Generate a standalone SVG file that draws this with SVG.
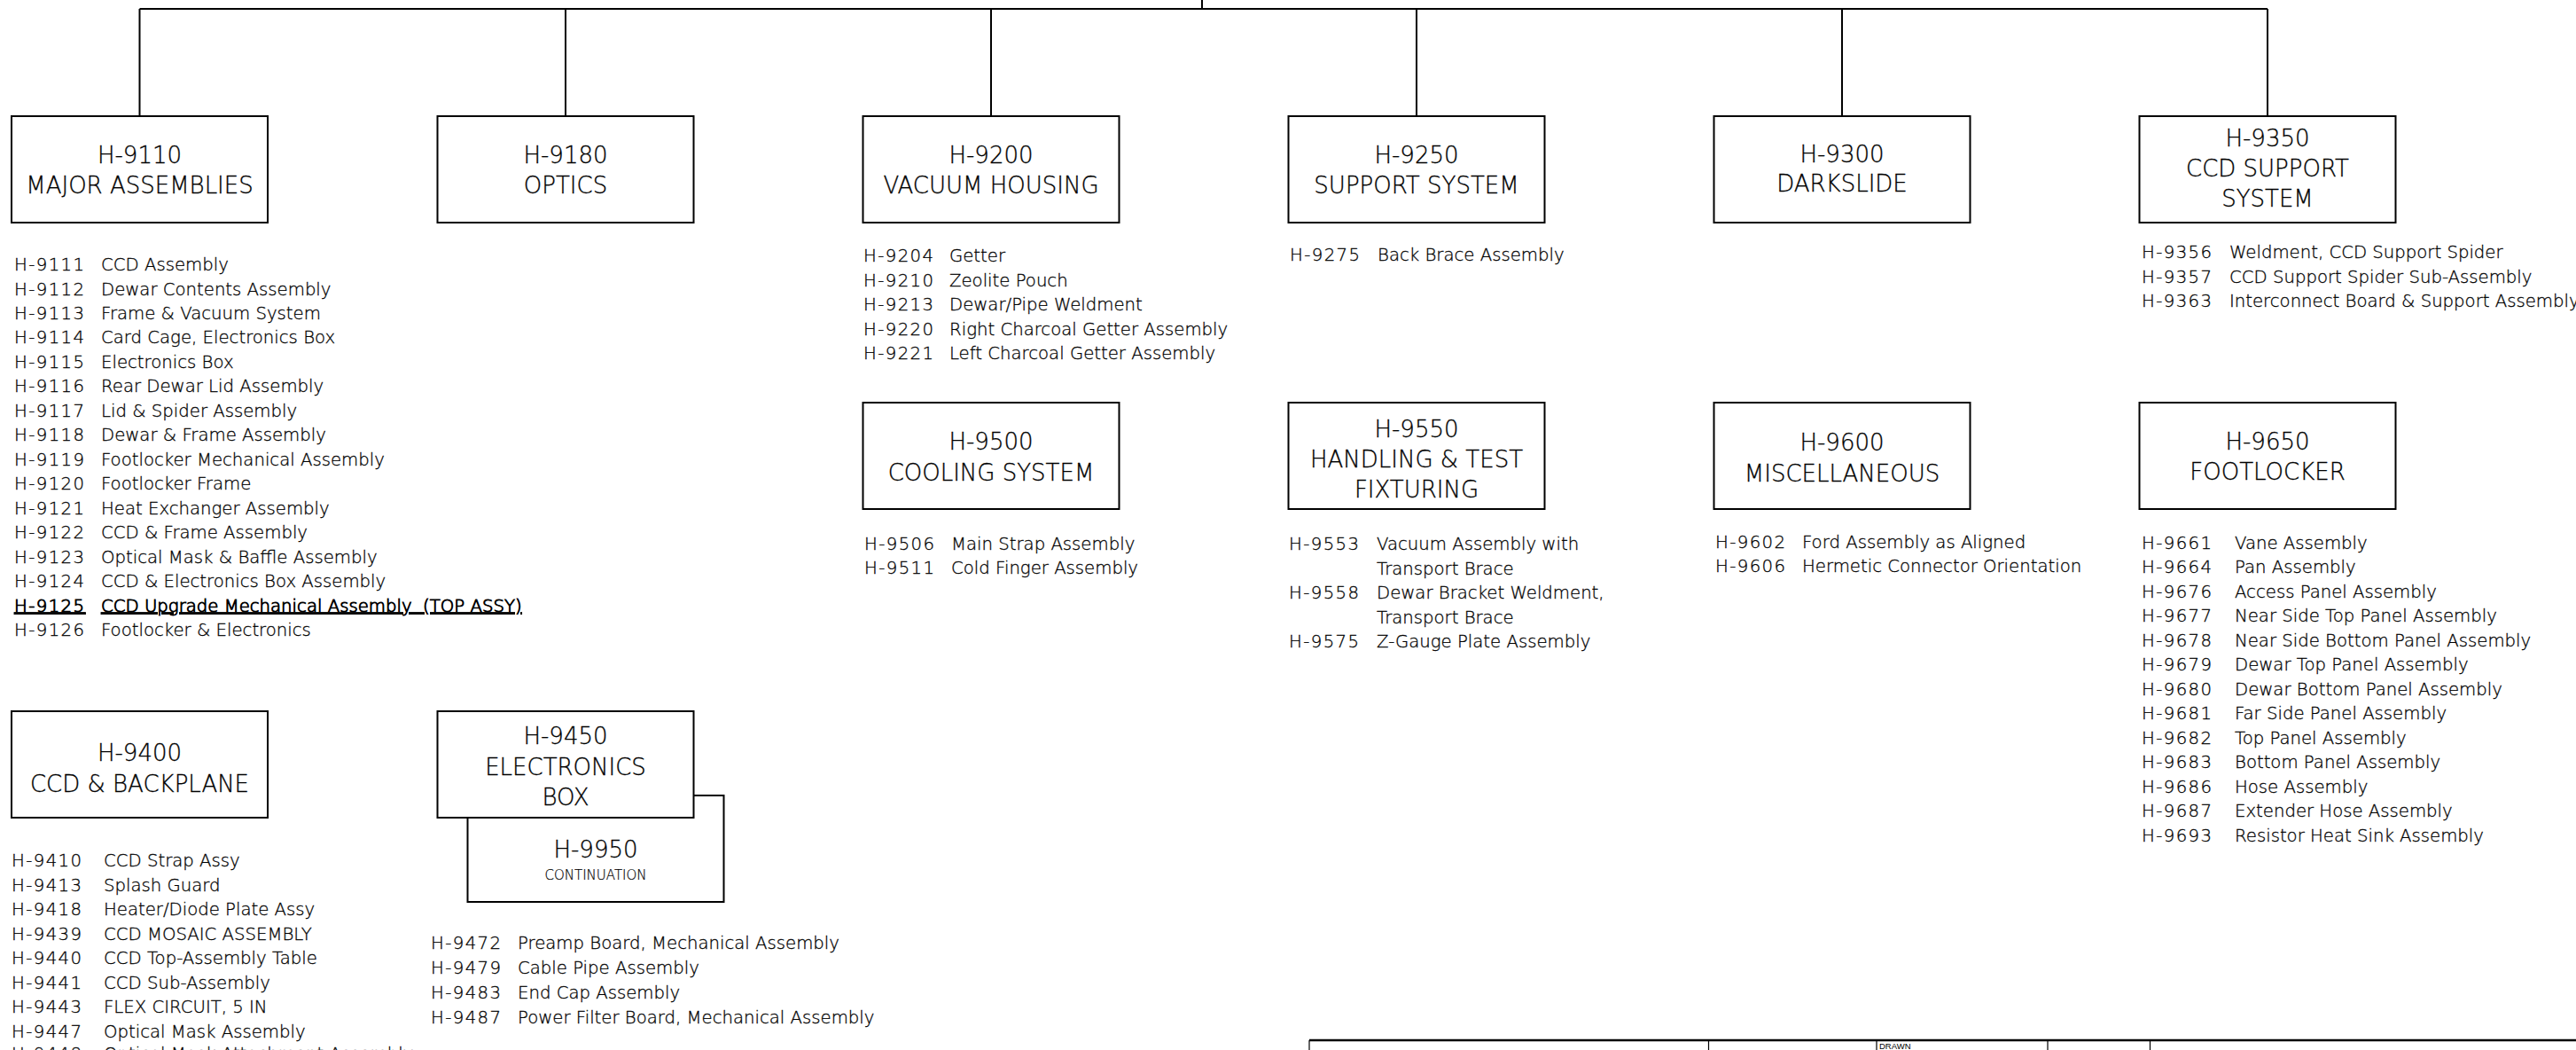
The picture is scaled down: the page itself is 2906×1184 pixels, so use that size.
<svg xmlns="http://www.w3.org/2000/svg" width="2906" height="1184" viewBox="0 0 2906 1184">
<style>
.box{fill:#fff;stroke:#000;stroke-width:2}
.conn{fill:none;stroke:#000;stroke-width:2}
.t{font-family:"DejaVu Sans",sans-serif;font-weight:200;font-size:26px;text-anchor:middle;fill:#000;stroke:#000;stroke-width:0.3}
.s{font-family:"DejaVu Sans",sans-serif;font-weight:200;font-size:15px;text-anchor:middle;fill:#000;stroke:#000;stroke-width:0.2}
.l text{font-family:"DejaVu Sans",sans-serif;font-weight:200;font-size:19.7px;fill:#000;stroke:#000;stroke-width:0.3}
.c{letter-spacing:1.4px}
.l text.b{stroke-width:0.9;text-decoration:underline;white-space:pre}
.tb{fill:none;stroke:#000;stroke-width:1.2}
.tl{font-family:"Liberation Sans",sans-serif;font-size:9.5px;fill:#000}
</style>
<rect width="2906" height="1184" fill="#fff"/>
<g id="connectors">
<path class="conn" d="M1356 0V10M157.5 10H2558M157.5 10V131M638 10V131M1118 10V131M1598 10V131M2078 10V131M2558 10V131"/>
</g>
<g id="n9110">
<rect class="box" x="13" y="131" width="289" height="120"/>
<text class="t" x="157.5" y="184">H-9110</text>
<text class="t" x="157.5" y="218">MAJOR ASSEMBLIES</text>
</g>
<g id="n9180">
<rect class="box" x="493.5" y="131" width="289" height="120"/>
<text class="t" x="638" y="184">H-9180</text>
<text class="t" x="638" y="218">OPTICS</text>
</g>
<g id="n9200">
<rect class="box" x="973.5" y="131" width="289" height="120"/>
<text class="t" x="1118" y="184">H-9200</text>
<text class="t" x="1118" y="218">VACUUM HOUSING</text>
</g>
<g id="n9250">
<rect class="box" x="1453.5" y="131" width="289" height="120"/>
<text class="t" x="1598" y="184">H-9250</text>
<text class="t" x="1598" y="218">SUPPORT SYSTEM</text>
</g>
<g id="n9300">
<rect class="box" x="1933.5" y="131" width="289" height="120"/>
<text class="t" x="2078" y="183">H-9300</text>
<text class="t" x="2078" y="216">DARKSLIDE</text>
</g>
<g id="n9350">
<rect class="box" x="2413.5" y="131" width="289" height="120"/>
<text class="t" x="2558" y="165">H-9350</text>
<text class="t" x="2558" y="199">CCD SUPPORT</text>
<text class="t" x="2558" y="233">SYSTEM</text>
</g>
<g id="n9500">
<rect class="box" x="973.5" y="454" width="289" height="120"/>
<text class="t" x="1118" y="507">H-9500</text>
<text class="t" x="1118" y="542">COOLING SYSTEM</text>
</g>
<g id="n9550">
<rect class="box" x="1453.5" y="454" width="289" height="120"/>
<text class="t" x="1598" y="493">H-9550</text>
<text class="t" x="1598" y="527">HANDLING &amp; TEST</text>
<text class="t" x="1598" y="561">FIXTURING</text>
</g>
<g id="n9600">
<rect class="box" x="1933.5" y="454" width="289" height="120"/>
<text class="t" x="2078" y="508">H-9600</text>
<text class="t" x="2078" y="543">MISCELLANEOUS</text>
</g>
<g id="n9650">
<rect class="box" x="2413.5" y="454" width="289" height="120"/>
<text class="t" x="2558" y="507">H-9650</text>
<text class="t" x="2558" y="541">FOOTLOCKER</text>
</g>
<g id="n9400">
<rect class="box" x="13" y="802" width="289" height="120"/>
<text class="t" x="157.5" y="858">H-9400</text>
<text class="t" x="157.5" y="893">CCD &amp; BACKPLANE</text>
</g>
<g id="n9950">
<rect class="box" x="527.5" y="897" width="289" height="120"/>
<text class="t" x="672" y="967">H-9950</text>
<text class="s" x="672" y="992">CONTINUATION</text>
</g>
<g id="n9450">
<rect class="box" x="493.5" y="802" width="289" height="120"/>
<text class="t" x="638" y="839">H-9450</text>
<text class="t" x="638" y="874">ELECTRONICS</text>
<text class="t" x="638" y="908">BOX</text>
</g>
<g id="list9110" class="l">
<text x="16" y="305"><tspan class="c">H-9111</tspan><tspan x="114">CCD Assembly</tspan></text>
<text x="16" y="332.5"><tspan class="c">H-9112</tspan><tspan x="114">Dewar Contents Assembly</tspan></text>
<text x="16" y="360"><tspan class="c">H-9113</tspan><tspan x="114">Frame &amp; Vacuum System</tspan></text>
<text x="16" y="387.4"><tspan class="c">H-9114</tspan><tspan x="114">Card Cage, Electronics Box</tspan></text>
<text x="16" y="414.9"><tspan class="c">H-9115</tspan><tspan x="114">Electronics Box</tspan></text>
<text x="16" y="442.4"><tspan class="c">H-9116</tspan><tspan x="114">Rear Dewar Lid Assembly</tspan></text>
<text x="16" y="469.8"><tspan class="c">H-9117</tspan><tspan x="114">Lid &amp; Spider Assembly</tspan></text>
<text x="16" y="497.3"><tspan class="c">H-9118</tspan><tspan x="114">Dewar &amp; Frame Assembly</tspan></text>
<text x="16" y="524.8"><tspan class="c">H-9119</tspan><tspan x="114">Footlocker Mechanical Assembly</tspan></text>
<text x="16" y="552.2"><tspan class="c">H-9120</tspan><tspan x="114">Footlocker Frame</tspan></text>
<text x="16" y="579.7"><tspan class="c">H-9121</tspan><tspan x="114">Heat Exchanger Assembly</tspan></text>
<text x="16" y="607.2"><tspan class="c">H-9122</tspan><tspan x="114">CCD &amp; Frame Assembly</tspan></text>
<text x="16" y="634.6"><tspan class="c">H-9123</tspan><tspan x="114">Optical Mask &amp; Baffle Assembly</tspan></text>
<text x="16" y="662.1"><tspan class="c">H-9124</tspan><tspan x="114">CCD &amp; Electronics Box Assembly</tspan></text>
<text x="16" y="689.6" class="b"><tspan class="c">H-9125</tspan><tspan x="114">CCD Upgrade Mechanical Assembly  (TOP ASSY)</tspan></text>
<text x="16" y="717"><tspan class="c">H-9126</tspan><tspan x="114">Footlocker &amp; Electronics</tspan></text>
</g>
<g id="list9200" class="l">
<text x="974" y="295"><tspan class="c">H-9204</tspan><tspan x="1071">Getter</tspan></text>
<text x="974" y="322.5"><tspan class="c">H-9210</tspan><tspan x="1071">Zeolite Pouch</tspan></text>
<text x="974" y="350"><tspan class="c">H-9213</tspan><tspan x="1071">Dewar/Pipe Weldment</tspan></text>
<text x="974" y="377.5"><tspan class="c">H-9220</tspan><tspan x="1071">Right Charcoal Getter Assembly</tspan></text>
<text x="974" y="405"><tspan class="c">H-9221</tspan><tspan x="1071">Left Charcoal Getter Assembly</tspan></text>
</g>
<g id="list9250" class="l">
<text x="1455" y="294"><tspan class="c">H-9275</tspan><tspan x="1554">Back Brace Assembly</tspan></text>
</g>
<g id="list9350" class="l">
<text x="2416" y="291"><tspan class="c">H-9356</tspan><tspan x="2515">Weldment, CCD Support Spider</tspan></text>
<text x="2416" y="318.5"><tspan class="c">H-9357</tspan><tspan x="2515">CCD Support Spider Sub-Assembly</tspan></text>
<text x="2416" y="346"><tspan class="c">H-9363</tspan><tspan x="2515">Interconnect Board &amp; Support Assembly</tspan></text>
</g>
<g id="list9500" class="l">
<text x="975" y="620"><tspan class="c">H-9506</tspan><tspan x="1073">Main Strap Assembly</tspan></text>
<text x="975" y="647"><tspan class="c">H-9511</tspan><tspan x="1073">Cold Finger Assembly</tspan></text>
</g>
<g id="list9550" class="l">
<text x="1454" y="620"><tspan class="c">H-9553</tspan><tspan x="1553">Vacuum Assembly with</tspan></text>
<text x="1553" y="647.5">Transport Brace</text>
<text x="1454" y="675"><tspan class="c">H-9558</tspan><tspan x="1553">Dewar Bracket Weldment,</tspan></text>
<text x="1553" y="702.5">Transport Brace</text>
<text x="1454" y="730"><tspan class="c">H-9575</tspan><tspan x="1553">Z-Gauge Plate Assembly</tspan></text>
</g>
<g id="list9600" class="l">
<text x="1935" y="618"><tspan class="c">H-9602</tspan><tspan x="2033">Ford Assembly as Aligned</tspan></text>
<text x="1935" y="645"><tspan class="c">H-9606</tspan><tspan x="2033">Hermetic Connector Orientation</tspan></text>
</g>
<g id="list9650" class="l">
<text x="2416" y="618.7"><tspan class="c">H-9661</tspan><tspan x="2521">Vane Assembly</tspan></text>
<text x="2416" y="646.2"><tspan class="c">H-9664</tspan><tspan x="2521">Pan Assembly</tspan></text>
<text x="2416" y="673.7"><tspan class="c">H-9676</tspan><tspan x="2521">Access Panel Assembly</tspan></text>
<text x="2416" y="701.2"><tspan class="c">H-9677</tspan><tspan x="2521">Near Side Top Panel Assembly</tspan></text>
<text x="2416" y="728.7"><tspan class="c">H-9678</tspan><tspan x="2521">Near Side Bottom Panel Assembly</tspan></text>
<text x="2416" y="756.2"><tspan class="c">H-9679</tspan><tspan x="2521">Dewar Top Panel Assembly</tspan></text>
<text x="2416" y="783.7"><tspan class="c">H-9680</tspan><tspan x="2521">Dewar Bottom Panel Assembly</tspan></text>
<text x="2416" y="811.2"><tspan class="c">H-9681</tspan><tspan x="2521">Far Side Panel Assembly</tspan></text>
<text x="2416" y="838.7"><tspan class="c">H-9682</tspan><tspan x="2521">Top Panel Assembly</tspan></text>
<text x="2416" y="866.2"><tspan class="c">H-9683</tspan><tspan x="2521">Bottom Panel Assembly</tspan></text>
<text x="2416" y="893.7"><tspan class="c">H-9686</tspan><tspan x="2521">Hose Assembly</tspan></text>
<text x="2416" y="921.2"><tspan class="c">H-9687</tspan><tspan x="2521">Extender Hose Assembly</tspan></text>
<text x="2416" y="948.7"><tspan class="c">H-9693</tspan><tspan x="2521">Resistor Heat Sink Assembly</tspan></text>
</g>
<g id="list9400" class="l">
<text x="13" y="977"><tspan class="c">H-9410</tspan><tspan x="117">CCD Strap Assy</tspan></text>
<text x="13" y="1004.5"><tspan class="c">H-9413</tspan><tspan x="117">Splash Guard</tspan></text>
<text x="13" y="1032"><tspan class="c">H-9418</tspan><tspan x="117">Heater/Diode Plate Assy</tspan></text>
<text x="13" y="1059.5"><tspan class="c">H-9439</tspan><tspan x="117">CCD MOSAIC ASSEMBLY</tspan></text>
<text x="13" y="1087"><tspan class="c">H-9440</tspan><tspan x="117">CCD Top-Assembly Table</tspan></text>
<text x="13" y="1114.5"><tspan class="c">H-9441</tspan><tspan x="117">CCD Sub-Assembly</tspan></text>
<text x="13" y="1142"><tspan class="c">H-9443</tspan><tspan x="117">FLEX CIRCUIT, 5 IN</tspan></text>
<text x="13" y="1169.5"><tspan class="c">H-9447</tspan><tspan x="117">Optical Mask Assembly</tspan></text>
<text x="13" y="1195"><tspan class="c">H-9448</tspan><tspan x="117">Optical Mask Attachment Assembly</tspan></text>
</g>
<g id="list9450" class="l">
<text x="486" y="1070"><tspan class="c">H-9472</tspan><tspan x="584">Preamp Board, Mechanical Assembly</tspan></text>
<text x="486" y="1098"><tspan class="c">H-9479</tspan><tspan x="584">Cable Pipe Assembly</tspan></text>
<text x="486" y="1126"><tspan class="c">H-9483</tspan><tspan x="584">End Cap Assembly</tspan></text>
<text x="486" y="1154"><tspan class="c">H-9487</tspan><tspan x="584">Power Filter Board, Mechanical Assembly</tspan></text>
</g>
<g id="titleblock">
<path d="M1477 1173H2906" stroke="#000" stroke-width="2.5" fill="none"/>
<path class="tb" d="M1477 1173V1184M1927.5 1173V1184M2117 1173V1184M2310 1173V1184M2425.5 1173V1184"/>
<text class="tl" x="2120" y="1183">DRAWN</text>
</g>
</svg>
